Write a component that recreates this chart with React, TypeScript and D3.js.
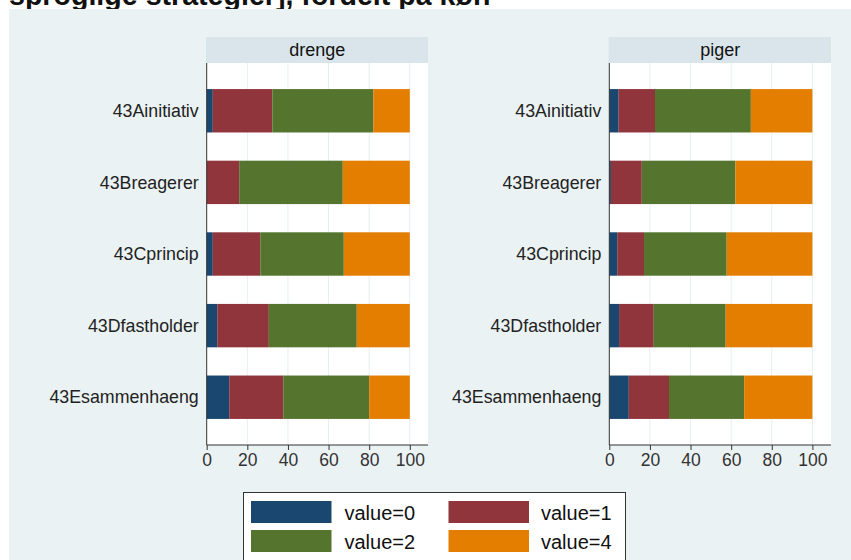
import { useEffect, useRef } from 'react';
import * as d3 from 'd3';

const categories = ['43Ainitiativ', '43Breagerer', '43Cprincip', '43Dfastholder', '43Esammenhaeng'];
const panels = ['drenge', 'piger'];
const keys = ['value=0', 'value=1', 'value=2', 'value=4'];
const xTicks = [0, 20, 40, 60, 80, 100];

// procent pr. kategori (drenge)
const drengeV0 = [3.0, 0.0, 3.0, 5.2, 11.1];
const drengeV1 = [29.3, 16.0, 23.4, 25.4, 26.6];
const drengeV2 = [49.8, 51.0, 41.1, 43.3, 42.3];
const drengeV4 = [17.9, 33.0, 32.5, 26.1, 20.0];

// procent pr. kategori (piger)
const pigerV0 = [4.6, 0.8, 3.9, 4.8, 9.6];
const pigerV1 = [17.9, 15.2, 13.2, 17.1, 19.8];
const pigerV2 = [47.2, 46.1, 40.7, 35.4, 37.0];
const pigerV4 = [30.3, 37.9, 42.2, 42.7, 33.6];

const colors = ['#1a476f', '#90353b', '#55752f', '#e37e00'];
const FONT = 'Liberation Sans, Arial, sans-serif';

export default function App() {
  const svgRef = useRef<SVGSVGElement>(null);

  useEffect(() => {
    if (!svgRef.current) return;
    const svg = d3.select(svgRef.current);
    svg.selectAll('*').remove();

    // titel (afskåret foroven)
    svg.append('text')
      .attr('x', 9)
      .attr('y', 5)
      .attr('font-family', FONT)
      .attr('font-weight', 'bold')
      .attr('font-size', 28.6)
      .attr('fill', '#111')
      .text('sproglige strategier], fordelt på køn');

    // baggrund
    svg.append('rect')
      .attr('x', 9).attr('y', 9)
      .attr('width', 842).attr('height', 551)
      .attr('fill', '#eaf2f3');

    const panelData = [
      [drengeV0, drengeV1, drengeV2, drengeV4],
      [pigerV0, pigerV1, pigerV2, pigerV4],
    ];
    const panelX = [
      { left: 206.7, x100: 409.8, right: 428 },
      { left: 609.3, x100: 812.4, right: 831 },
    ];
    const top = 63;
    const bottom = 445;

    const y = d3.scalePoint<string>()
      .domain(categories)
      .range([top, bottom])
      .padding(0.667);
    const barH = y.step() * 0.606;

    panels.forEach((name, p) => {
      const { left, x100, right } = panelX[p];
      const x = d3.scaleLinear().domain([0, 100]).range([left, x100]);
      const g = svg.append('g');

      // overskrift
      g.append('rect')
        .attr('x', left - 0.7).attr('y', 37)
        .attr('width', right - left + 0.7).attr('height', 26)
        .attr('fill', '#d9e5eb');
      g.append('text')
        .attr('x', (left + right) / 2)
        .attr('y', 56)
        .attr('text-anchor', 'middle')
        .attr('font-family', FONT)
        .attr('font-size', 18)
        .attr('fill', '#111')
        .text(name);

      // plotområde
      g.append('rect')
        .attr('x', left).attr('y', top)
        .attr('width', right - left).attr('height', bottom - top)
        .attr('fill', '#fff');

      g.selectAll('line.grid')
        .data(xTicks.slice(1))
        .enter().append('line')
        .attr('class', 'grid')
        .attr('x1', d => x(d)).attr('x2', d => x(d))
        .attr('y1', top).attr('y2', bottom)
        .attr('stroke', '#e6eff1')
        .attr('stroke-width', 1);

      // stablede søjler
      const rows = categories.map((c, i) => {
        const r: Record<string, number | string> = { cat: c };
        keys.forEach((k, j) => { r[k] = panelData[p][j][i]; });
        return r;
      });
      const stack = d3.stack<Record<string, number | string>>().keys(keys);
      const series = stack(rows as any);

      series.forEach((s, j) => {
        g.selectAll(null)
          .data(s)
          .enter().append('rect')
          .attr('x', d => x(d[0]))
          .attr('y', d => (y(d.data.cat as string) as number) - barH / 2)
          .attr('width', d => Math.max(0, x(d[1]) - x(d[0])))
          .attr('height', barH)
          .attr('fill', colors[j]);
      });

      // akser
      const xAxis = g.append('g')
        .attr('transform', `translate(0,${bottom})`)
        .call(d3.axisBottom(x).tickValues(xTicks).tickSize(5).tickPadding(4).tickSizeOuter(0));
      xAxis.select('.domain').remove();
      xAxis.append('line')
        .attr('x1', left).attr('x2', right)
        .attr('stroke', '#333');
      xAxis.selectAll('.tick line').attr('stroke', '#333');
      xAxis.selectAll('.tick text')
        .attr('font-family', FONT)
        .attr('font-size', 17.5)
        .attr('fill', '#333');

      const yAxis = g.append('g')
        .attr('transform', `translate(${left},0)`)
        .call(d3.axisLeft(y).tickSize(0).tickPadding(8));
      yAxis.select('.domain').remove();
      yAxis.append('line')
        .attr('y1', top).attr('y2', bottom)
        .attr('stroke', '#333');
      yAxis.selectAll('.tick text')
        .attr('font-family', FONT)
        .attr('font-size', 17.8)
        .attr('fill', '#222');
    });

    // forklaring
    const legend = svg.append('g');
    legend.append('rect')
      .attr('x', 243.5).attr('y', 492.5)
      .attr('width', 382).attr('height', 80)
      .attr('fill', '#fff')
      .attr('stroke', '#333');

    const item = legend.selectAll('g.item')
      .data(keys)
      .enter().append('g')
      .attr('class', 'item')
      .attr('transform', (_, i) => `translate(${i % 2 === 0 ? 251 : 448.5},${i < 2 ? 501 : 530})`);
    item.append('rect')
      .attr('width', 80.5).attr('height', 22)
      .attr('fill', (_, i) => colors[i]);
    item.append('text')
      .attr('x', (_, i) => (i % 2 === 0 ? 93.5 : 92.5))
      .attr('y', 19)
      .attr('font-family', FONT)
      .attr('font-size', 20)
      .attr('fill', '#111')
      .text(d => d);
  }, []);

  return (
    <svg
      ref={svgRef}
      width={851}
      height={560}
      style={{ position: 'absolute', left: 0, top: 0, display: 'block', background: '#fff' }}
    />
  );
}
